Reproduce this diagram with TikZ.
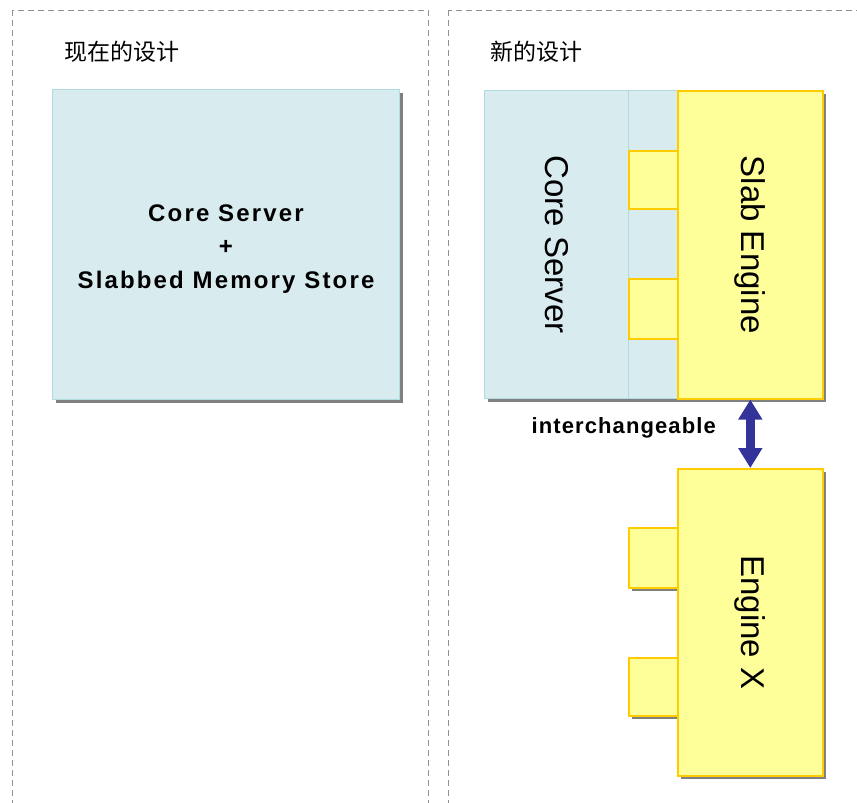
\documentclass[tikz,border=0pt]{standalone}
\usepackage{fontspec}
\setmainfont{Liberation Sans}
\newfontfamily\cjk{Noto Sans CJK SC}
\usetikzlibrary{arrows.meta,shadows}
\definecolor{lblue}{HTML}{D8EBEE}
\definecolor{lblueline}{HTML}{B0DCE0}
\definecolor{yfill}{HTML}{FFFF99}
\definecolor{yline}{HTML}{FFCC00}
\definecolor{shadowgray}{HTML}{808080}
\definecolor{arrowblue}{HTML}{333399}
\definecolor{panelgray}{HTML}{909090}
\tikzset{
  panel/.style={draw=panelgray, line width=1pt, dash pattern=on 6pt off 4pt},
  shad/.style={drop shadow={shadow xshift=3pt,shadow yshift=-3pt,fill=shadowgray,opacity=1}},
  bluebox/.style={rectangle, fill=lblue, draw=lblueline, line width=1pt, inner sep=0pt, anchor=north west},
  yelbox/.style={rectangle, fill=yfill, draw=yline, line width=1.6pt, inner sep=0pt, anchor=north west},
  title/.style={anchor=west, inner sep=0pt, font=\cjk\fontsize{23}{23}\selectfont},
  boldtxt/.style={font=\bfseries\addfontfeature{LetterSpace=9}\fontsize{24}{33.5}\selectfont, align=center},
  vtxt/.style={rotate=-90, font=\fontsize{33}{33}\selectfont},
}
\begin{document}
\begin{tikzpicture}[x=1pt,y=-1pt]
\useasboundingbox (0,0) rectangle (857,803);
% panels
\draw[panel] (12,10) rectangle (428,830);
\draw[panel] (448,10) rectangle (880,830);
% titles
\node[title] (t1) at (64,52) {现在的设计};
\node[title] (t2) at (490,52) {新的设计};
% current design
\node[bluebox, shad, minimum width=347pt, minimum height=310pt] (old) at (52,89) {};
\node[boldtxt] (oldtxt) at ([yshift=-4.5pt]old.center) {Core Server\\+\\Slabbed Memory Store};
% new design
\node[bluebox, shad, minimum width=144pt, minimum height=308pt] (core) at (484,90) {};
\node[bluebox, shad, minimum width=49pt, minimum height=308pt] (strip) at (628,90) {};
\node[yelbox, minimum width=49pt, minimum height=58pt] (tab1) at (628,150) {};
\node[yelbox, minimum width=49pt, minimum height=60pt] (tab2) at (628,278) {};
\node[yelbox, shad, minimum width=145pt, minimum height=308pt] (slab) at (677,90) {};
\node[vtxt] (coretxt) at (core.center) {Core Server};
\node[vtxt] (slabtxt) at (slab.center) {Slab Engine};
% engine X
\node[yelbox, shad, minimum width=49pt, minimum height=60pt] (tab3) at (628,527) {};
\node[yelbox, shad, minimum width=49pt, minimum height=58pt] (tab4) at (628,657) {};
\node[yelbox, shad, minimum width=145pt, minimum height=307pt] (engx) at (677,468) {};
\node[vtxt] (engxtxt) at (engx.center) {Engine X};
% arrow
\draw[arrowblue, line width=9pt, {Triangle[width=23pt,length=20pt]}-{Triangle[width=23pt,length=20pt]}] (slab.south) -- (engx.north);
\node[anchor=east, inner sep=0pt, font=\bfseries\addfontfeature{LetterSpace=5}\fontsize{22}{22}\selectfont] (ilabel) at (716,428) {interchangeable};
\end{tikzpicture}
\end{document}
